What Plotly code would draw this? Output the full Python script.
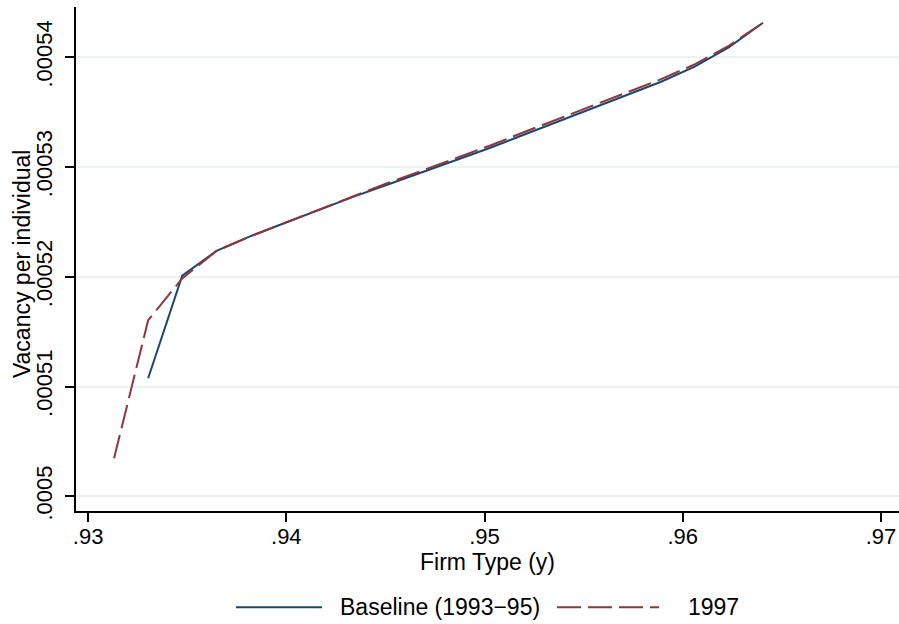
import plotly.graph_objects as go

# Firm type grid
firm_type_base = [0.93303, 0.93475, 0.93648, 0.93820, 0.93992, 0.94165, 0.94337,
                  0.94509, 0.94681, 0.94854, 0.95026, 0.95198, 0.95371, 0.95543,
                  0.95715, 0.95888, 0.96060, 0.96232, 0.96405]
vacancy_base = [0.00051076, 0.00052010, 0.00052236, 0.00052370, 0.00052490,
                0.00052612, 0.00052728, 0.00052839, 0.00052949, 0.00053060,
                0.00053173, 0.00053294, 0.00053414, 0.00053533, 0.00053650,
                0.00053775, 0.00053915, 0.00054090, 0.00054315]

firm_type_1997 = [0.93131, 0.93303, 0.93475, 0.93648, 0.93820, 0.93992, 0.94165,
                  0.94337, 0.94509, 0.94681, 0.94854, 0.95026, 0.95198, 0.95371,
                  0.95543, 0.95715, 0.95888, 0.96060, 0.96232, 0.96405]
vacancy_1997 = [0.00050346, 0.00051604, 0.00051985, 0.00052236, 0.00052370,
                0.00052490, 0.00052617, 0.00052738, 0.00052852, 0.00052965,
                0.00053079, 0.00053194, 0.00053317, 0.00053438, 0.00053558,
                0.00053675, 0.00053798, 0.00053935, 0.00054104, 0.00054315]

x_ticks = [0.93, 0.94, 0.95, 0.96, 0.97]
x_tick_labels = [".93", ".94", ".95", ".96", ".97"]
y_ticks = [0.0005, 0.00051, 0.00052, 0.00053, 0.00054]
y_tick_labels = [".0005", ".00051", ".00052", ".00053", ".00054"]

series_names = ["Baseline (1993\u221295)", "1997"]
series_colors = ["#1a476f", "#90353b"]
series_dash = ["solid", "24px,7px"]

FONT = "Liberation Sans, Arial, sans-serif"

fig = go.Figure()
fig.add_trace(go.Scatter(x=firm_type_base, y=vacancy_base, mode="lines",
                         name=series_names[0], showlegend=False,
                         line=dict(color=series_colors[0], width=2)))
fig.add_trace(go.Scatter(x=firm_type_1997, y=vacancy_1997, mode="lines",
                         name=series_names[1], showlegend=False,
                         line=dict(color=series_colors[1], width=2, dash=series_dash[1])))

# Custom legend below the plot (long line samples as in the original)
leg_y = -0.1912
leg_items = [(0.1944, 0.2989, 0.3183), (0.5845, 0.7084, 0.7412)]
for (x0, x1, xt), name, col, dash in zip(leg_items, series_names, series_colors, series_dash):
    fig.add_shape(type="line", xref="paper", yref="paper", x0=x0, x1=x1, y0=leg_y, y1=leg_y,
                  line=dict(color=col, width=2, dash=dash))
    fig.add_annotation(xref="paper", yref="paper", x=xt, y=leg_y, text=name,
                       showarrow=False, xanchor="left", yanchor="middle",
                       font=dict(size=23, family=FONT, color="black"))

# Y axis title
fig.add_annotation(xref="paper", yref="paper", x=-0.0656, y=0.49, text="Vacancy per individual",
                   textangle=-90, showarrow=False, xanchor="center", yanchor="middle",
                   font=dict(size=23, family=FONT, color="black"))

fig.update_layout(
    width=899, height=624,
    margin=dict(l=76, r=0, t=7, b=113),
    paper_bgcolor="white", plot_bgcolor="white",
    font=dict(family=FONT, color="black", size=22),
    showlegend=False,
    xaxis=dict(range=[0.92939, 0.97091], tickvals=x_ticks, ticktext=x_tick_labels,
               automargin=False,
               showgrid=False, zeroline=False, showline=True, linecolor="black",
               linewidth=1.5, ticks="outside", ticklen=9, tickcolor="black",
               tickwidth=1.5, tickfont=dict(size=22), ticklabelstandoff=-4,
               title=dict(text="Firm Type (y)", font=dict(size=23), standoff=0)),
    yaxis=dict(range=[0.00049866, 0.00054458], tickvals=y_ticks, ticktext=y_tick_labels,
               automargin=False,
               tickangle=-90, showgrid=True, gridcolor="#eaf2f3", gridwidth=2,
               zeroline=False, showline=True, linecolor="black", linewidth=1.5,
               ticks="outside", ticklen=9, tickcolor="black", tickwidth=1.5,
               tickfont=dict(size=22), ticklabelstandoff=4),
)

fig.write_html("out.html", config={"displayModeBar": False},
               post_script="document.body.style.margin='0';")
